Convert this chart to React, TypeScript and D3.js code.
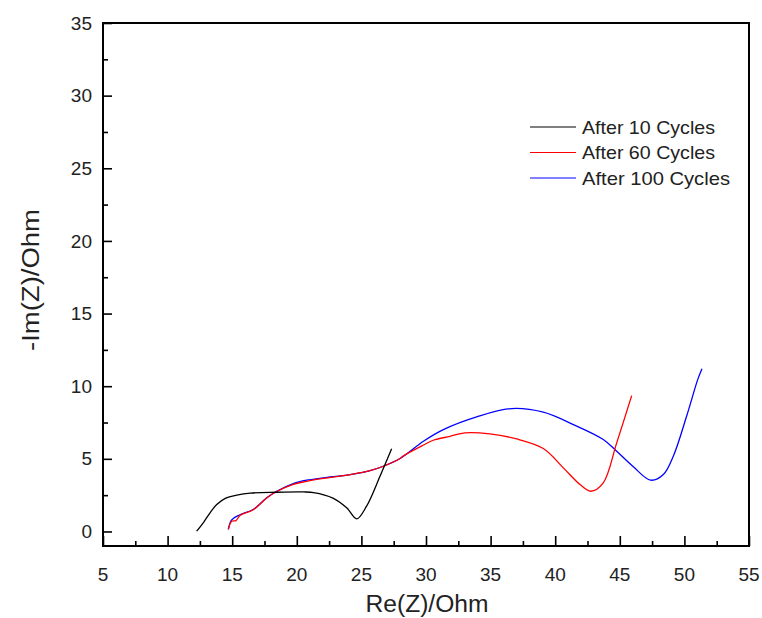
import React, { useRef, useEffect } from "react";
import * as d3 from "d3";

// Nyquist data
const cycles10X = [12.25, 12.8, 13.3, 13.8, 14.5, 15.35, 16.4, 18.44, 20.5, 21.3, 22.8, 23.86, 24.64, 25.4, 26.44, 27.34];
const cycles10Y = [0.02, 0.65, 1.3, 1.85, 2.3, 2.5, 2.64, 2.7, 2.72, 2.68, 2.3, 1.63, 0.87, 1.74, 3.8, 5.69];

const cycles60X = [14.7, 14.96, 15.3, 15.6, 16.63, 17.67, 18.44, 19.73, 20.76, 22.06, 24.12, 25.67, 26.7, 27.99, 28.24, 29.8, 30.56, 31.86, 33.02, 34.95, 37.02, 39.08, 40.63, 41.92, 42.75, 43.72, 44.76, 45.92];
const cycles60Y = [0.14, 0.71, 0.75, 1.1, 1.5, 2.3, 2.75, 3.25, 3.45, 3.65, 3.92, 4.19, 4.49, 5.02, 5.2, 5.95, 6.28, 6.55, 6.79, 6.72, 6.37, 5.71, 4.38, 3.23, 2.77, 3.35, 6.1, 9.35];

const cycles100X = [14.7, 14.96, 15.6, 16.63, 17.67, 18.44, 19.73, 20.76, 22.06, 24.12, 25.67, 26.7, 27.99, 29.8, 31.34, 33.92, 36.63, 39.08, 41.4, 43.72, 44.76, 46.05, 47.39, 48.37, 49.14, 50.17, 51.03, 51.36];
const cycles100Y = [0.14, 0.8, 1.15, 1.51, 2.32, 2.77, 3.3, 3.53, 3.69, 3.92, 4.19, 4.49, 5.02, 6.21, 7.01, 7.89, 8.46, 8.21, 7.36, 6.33, 5.52, 4.45, 3.53, 3.92, 5.18, 7.93, 10.45, 11.2];

const seriesNames = ["After 10 Cycles", "After 60 Cycles", "After 100 Cycles"];
const seriesColors = ["#000000", "#ff0000", "#0000ff"];

const xTicks = [5, 10, 15, 20, 25, 30, 35, 40, 45, 50, 55];
const yTicks = [0, 5, 10, 15, 20, 25, 30, 35];

function App() {
  const svgRef = useRef<SVGSVGElement>(null);

  useEffect(() => {
    const W = 762;
    const H = 618;
    const left = 103;
    const right = 749;
    const top = 23;
    const bottom = 546;
    const font = "'Liberation Sans', Arial, sans-serif";

    const svg = d3.select(svgRef.current).attr("width", W).attr("height", H);
    svg.selectAll("*").remove();
    svg.append("rect").attr("width", W).attr("height", H).attr("fill", "white");

    const x = d3.scaleLinear().domain([5, 55]).range([left, right]);
    const y = d3.scaleLinear().domain([-1, 35]).range([bottom, top]);

    // ticks point inward, majors every 5, minors every 2.5
    const xAxis = d3
      .axisBottom(x)
      .tickValues(d3.range(5, 55.01, 2.5))
      .tickSize(-10)
      .tickFormat(() => "");
    const gx = svg.append("g").attr("transform", `translate(0,${bottom})`).call(xAxis);
    gx.select(".domain").remove();
    gx.selectAll(".tick line")
      .attr("stroke", "#000")
      .attr("stroke-width", 1.6)
      .attr("y2", (d: any) => (d % 5 === 0 ? -10 : -5));

    const yAxis = d3
      .axisLeft(y)
      .tickValues(d3.range(0, 35.01, 2.5))
      .tickSize(-9)
      .tickFormat(() => "");
    const gy = svg.append("g").attr("transform", `translate(${left},0)`).call(yAxis);
    gy.select(".domain").remove();
    gy.selectAll(".tick line")
      .attr("stroke", "#000")
      .attr("stroke-width", 1.6)
      .attr("x2", (d: any) => (d % 5 === 0 ? 9 : 5));

    // tick labels
    svg
      .append("g")
      .selectAll("text")
      .data(xTicks)
      .join("text")
      .attr("x", (d) => x(d))
      .attr("y", bottom + 35)
      .attr("text-anchor", "middle")
      .attr("font-family", font)
      .attr("font-size", 19)
      .attr("fill", "#222")
      .text((d) => d);

    svg
      .append("g")
      .selectAll("text")
      .data(yTicks)
      .join("text")
      .attr("x", left - 11)
      .attr("y", (d) => y(d))
      .attr("dy", "0.35em")
      .attr("text-anchor", "end")
      .attr("font-family", font)
      .attr("font-size", 19)
      .attr("fill", "#222")
      .text((d) => d);

    // frame
    svg
      .append("rect")
      .attr("x", left)
      .attr("y", top)
      .attr("width", right - left)
      .attr("height", bottom - top)
      .attr("fill", "none")
      .attr("stroke", "#000")
      .attr("stroke-width", 2);

    // curves
    const xs = [cycles10X, cycles60X, cycles100X];
    const ys = [cycles10Y, cycles60Y, cycles100Y];
    const line = d3
      .line<[number, number]>()
      .x((d) => x(d[0]))
      .y((d) => y(d[1]))
      .curve(d3.curveCatmullRom.alpha(0.5));

    [2, 1, 0].forEach((i) => {
      const pts = xs[i].map((v, j) => [v, ys[i][j]] as [number, number]);
      svg
        .append("path")
        .datum(pts)
        .attr("fill", "none")
        .attr("stroke", seriesColors[i])
        .attr("stroke-width", 1.3)
        .attr("d", line);
    });

    // legend
    const legendWidths = [133, 133, 148];
    const lg = svg.append("g");
    seriesNames.forEach((name, i) => {
      const ly = 127 + i * 25.5;
      lg.append("line")
        .attr("x1", 530)
        .attr("x2", 576)
        .attr("y1", ly)
        .attr("y2", ly)
        .attr("stroke", seriesColors[i])
        .attr("stroke-width", 1.2);
      lg.append("text")
        .attr("x", 582)
        .attr("y", ly)
        .attr("dy", "0.36em")
        .attr("font-family", font)
        .attr("font-size", 18.5)
        .attr("textLength", legendWidths[i])
        .attr("lengthAdjust", "spacingAndGlyphs")
        .attr("fill", "#222")
        .text(name);
    });

    // axis titles
    svg
      .append("text")
      .attr("x", 427)
      .attr("y", 612)
      .attr("text-anchor", "middle")
      .attr("font-family", font)
      .attr("font-size", 23)
      .attr("textLength", 123)
      .attr("lengthAdjust", "spacingAndGlyphs")
      .attr("fill", "#222")
      .text("Re(Z)/Ohm");

    svg
      .append("text")
      .attr("transform", `translate(39,280) rotate(-90)`)
      .attr("text-anchor", "middle")
      .attr("font-family", font)
      .attr("font-size", 23)
      .attr("textLength", 142)
      .attr("lengthAdjust", "spacingAndGlyphs")
      .attr("fill", "#222")
      .text("-Im(Z)/Ohm");
  }, []);

  return (
    <div style={{ position: "absolute", left: 0, top: 0 }}>
      <svg ref={svgRef}></svg>
    </div>
  );
}

export default App;
